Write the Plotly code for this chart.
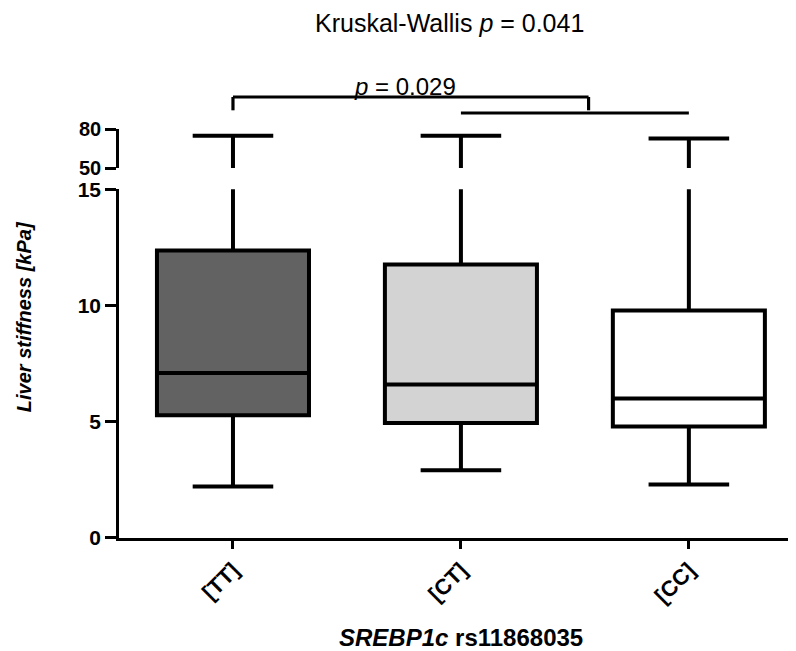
import plotly.graph_objects as go

# ---- data ----
groups = ["[TT]", "[CT]", "[CC]"]
q1 = [5.28, 4.95, 4.80]
median = [7.10, 6.60, 6.00]
q3 = [12.37, 11.77, 9.79]
lower_whisker = [2.22, 2.91, 2.30]
upper_whisker = [74.8, 74.8, 72.7]
fill_colors = ["#626262", "#d3d3d3", "#ffffff"]

low_ticks = [0, 5, 10, 15]
high_ticks = [50, 80]

title_text = "Kruskal-Wallis <i>p</i> = 0.041"
pair_text = "<i>p</i> = 0.029"
y_title = "<b><i>Liver stiffness [kPa]</i></b>"
x_title = "<b><i>SREBP1c</i> rs11868035</b>"

FONT = "Liberation Sans, Arial, sans-serif"

fig = go.Figure()
for i, g in enumerate(groups):
    for ya in ["y", "y2"]:
        fig.add_trace(go.Box(
            x=[g], q1=[q1[i]], median=[median[i]], q3=[q3[i]],
            lowerfence=[lower_whisker[i]], upperfence=[upper_whisker[i]],
            fillcolor=fill_colors[i],
            line=dict(color="black", width=4),
            width=0.667, whiskerwidth=0.53,
            boxpoints=False, showlegend=False, hoverinfo="skip",
            xaxis="x", yaxis=ya,
        ))

axis_common = dict(
    showline=True, linecolor="black", linewidth=2.5,
    ticks="outside", tickcolor="black", tickwidth=2.5,
    showgrid=False, zeroline=False, automargin=False,
)

# the page places the figure 8px from the top-left corner
fig.update_layout(
    width=788, height=643,
    margin=dict(l=111, r=0, t=121, b=113),
    plot_bgcolor="white", paper_bgcolor="white",
    font=dict(family=FONT, color="black"),
    boxmode="overlay",
    xaxis=dict(
        type="category", categoryorder="array", categoryarray=groups,
        range=[-0.5, 2.47], domain=[0, 1], anchor="y",
        ticklen=8, tickangle=-45,
        tickfont=dict(family=FONT, size=22, color="black", weight="bold"),
        **axis_common,
    ),
    yaxis=dict(
        domain=[0, 0.8526], range=[0, 15], tickvals=low_ticks, anchor="x",
        ticklen=11,
        tickfont=dict(family=FONT, size=21, color="black", weight="bold"),
        **axis_common,
    ),
    yaxis2=dict(
        domain=[0.9046, 1], range=[50, 80], tickvals=high_ticks, anchor="x",
        ticklen=11,
        tickfont=dict(family=FONT, size=20, color="black", weight="bold"),
        **axis_common,
    ),
)

# significance brackets
line_style = dict(color="black", width=3.2)
shapes = [
    dict(type="line", xref="x", yref="paper", x0=0, x1=0, y0=1.0457, y1=1.0782, line=line_style),
    dict(type="line", xref="x", yref="paper", x0=0, x1=1.56, y0=1.0782, y1=1.0782, line=line_style),
    dict(type="line", xref="x", yref="paper", x0=1.56, x1=1.56, y0=1.0457, y1=1.0782, line=line_style),
    dict(type="line", xref="x", yref="paper", x0=1.0, x1=2.0, y0=1.0391, y1=1.0391, line=line_style),
]
fig.update_layout(shapes=shapes)

fig.add_annotation(text=title_text, xref="paper", yref="paper", x=0.4889, y=1.2584,
                   xanchor="center", yanchor="middle", showarrow=False,
                   font=dict(family=FONT, size=25, color="black"))
fig.add_annotation(text=pair_text, xref="x", yref="paper", x=0.754, y=1.104,
                   xanchor="center", yanchor="middle", showarrow=False,
                   font=dict(family=FONT, size=24, color="black"))
fig.add_annotation(text=y_title, xref="paper", yref="paper", x=-0.1403, y=0.54,
                   xanchor="center", yanchor="middle", textangle=-90, showarrow=False,
                   font=dict(family=FONT, size=20, color="black"))
fig.add_annotation(text=x_title, xref="x", yref="paper", x=1, y=-0.2428,
                   xanchor="center", yanchor="middle", showarrow=False,
                   font=dict(family=FONT, size=24, color="black"))

fig.write_html("out.html")
